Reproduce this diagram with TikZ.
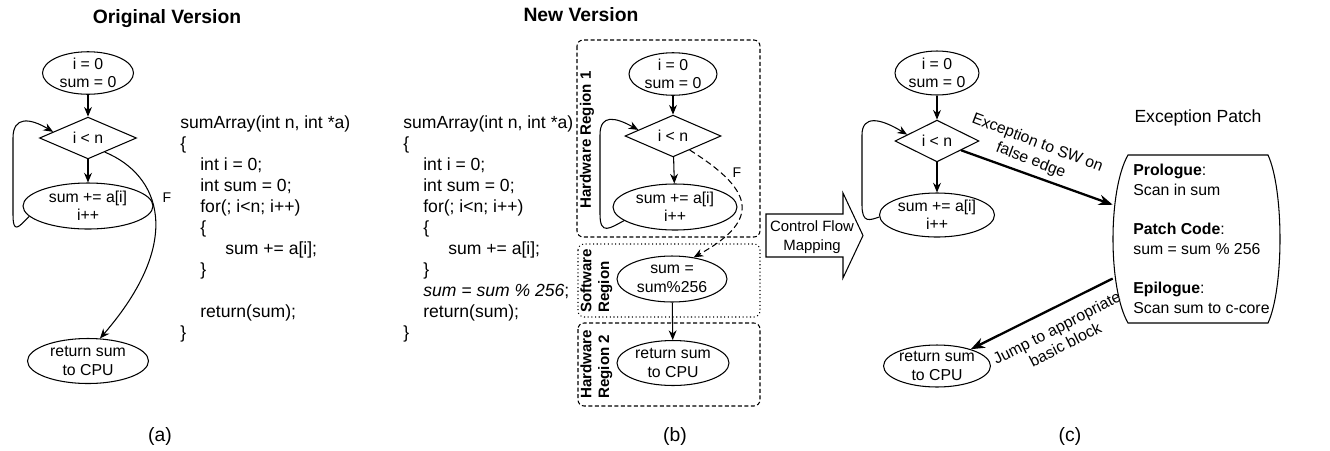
\documentclass[tikz,border=0pt]{standalone}
\usepackage{fontspec}
\setmainfont{Liberation Sans}
\usetikzlibrary{shapes.geometric,arrows.meta,positioning}
\tikzset{%
  blockNode/.style={%
    ellipse,
    draw,
    line width=0.6pt,
    inner sep=0pt,
    align=center,
    font=\fontsize{9}{10.5}\selectfont
  },
  testNode/.style={%
    diamond,
    draw,
    line width=0.6pt,
    inner sep=0pt,
    align=center,
    font=\fontsize{9}{10.5}\selectfont
  },
  flowLine/.style={%
    -{Stealth[length=5.5pt,width=4.5pt]},
    line width=0.6pt
  },
  falseLine/.style={%
    flowLine,
    dash pattern=on 3.5pt off 2pt
  },
  patchLine/.style={%
    -{Stealth[length=8pt,width=6pt]},
    line width=1.3pt
  },
  regionBox/.style={%
    rounded corners=3.5pt,
    line width=0.6pt
  },
  regionLabel/.style={%
    rotate=90,
    inner sep=0pt,
    align=left,
    font=\fontsize{8.6}{10.2}\selectfont\bfseries
  },
  codeText/.style={%
    inner sep=0pt,
    align=left,
    anchor=north west,
    font=\fontsize{10}{12}\selectfont
  },
  patchLabel/.style={%
    align=center,
    inner sep=0pt,
    font=\fontsize{9}{10.5}\selectfont
  },
  titleText/.style={font=\fontsize{11}{13}\selectfont\bfseries},
  captionText/.style={font=\fontsize{11}{13}\selectfont},
  edgeLabel/.style={font=\fontsize{8}{9.5}\selectfont}
}

\begin{document}
\begin{tikzpicture}[x=0.02cm, y=-0.02cm]
  \fill[white] (0,0) rectangle (1330,448);

  % (a) original version
  \node[titleText] (titleA) at (167,19) {Original Version};
  \node[blockNode, minimum width=1.82cm, minimum height=0.8cm] (initA) at (88,73) {i = 0\\sum = 0};
  \node[testNode, minimum width=1.94cm, minimum height=0.76cm] (testA) at (88,138) {i {\textless} n};
  \node[blockNode, minimum width=2.6cm, minimum height=0.92cm] (sumA) at (88,206) {sum += a[i]\\i++};
  \node[blockNode, minimum width=2.42cm, minimum height=0.9cm] (retA) at (88,361) {return sum\\to CPU};

  \draw[flowLine] (initA) -- (testA);
  \draw[flowLine] (testA) -- (sumA);
  \draw[flowLine] (sumA.190) .. controls (18,228) and (13,234) .. (13,214) -- (13,138)
    .. controls (13,116) and (30,118) .. (testA.170);
  \draw[flowLine] (testA.-40) .. controls (160,175) and (185,240) .. (retA.62);
  \node[edgeLabel] (falseA) at (167,198) {F};

  \node[codeText] (codeA) at (180,115) {sumArray(int n, int *a)\\
    \{\\
    \hspace*{0.4cm}int i = 0;\\
    \hspace*{0.4cm}int sum = 0;\\
    \hspace*{0.4cm}for(; i{\textless}n; i++)\\
    \hspace*{0.4cm}\{\\
    \hspace*{0.9cm}sum += a[i];\\
    \hspace*{0.4cm}\}\\
    \mbox{}\\
    \hspace*{0.4cm}return(sum);\\
    \}};
  \node[captionText] (capA) at (160,436) {(a)};

  % (b) new version
  \node[titleText] (titleB) at (581,15) {New Version};
  \node[codeText] (codeB) at (403,115) {sumArray(int n, int *a)\\
    \{\\
    \hspace*{0.4cm}int i = 0;\\
    \hspace*{0.4cm}int sum = 0;\\
    \hspace*{0.4cm}for(; i{\textless}n; i++)\\
    \hspace*{0.4cm}\{\\
    \hspace*{0.9cm}sum += a[i];\\
    \hspace*{0.4cm}\}\\
    \hspace*{0.4cm}\textit{sum = sum \% 256};\\
    \hspace*{0.4cm}return(sum);\\
    \}};

  \draw[regionBox, dash pattern=on 2.3pt off 1.4pt] (577,40) rectangle (760,237);
  \draw[regionBox, dash pattern=on 0.6pt off 1.5pt] (578,244) rectangle (760,317);
  \draw[regionBox, dash pattern=on 2.3pt off 1.4pt] (578,323) rectangle (760,406);
  \node[regionLabel] (hwOneLabel) at (587,140) {Hardware Region 1};
  \node[regionLabel, anchor=north west] (swLabel) at (580,313) {Software\\Region};
  \node[regionLabel, anchor=north west] (hwTwoLabel) at (580,399) {Hardware\\Region 2};

  \node[blockNode, minimum width=1.76cm, minimum height=0.84cm] (initB) at (673,74) {i = 0\\sum = 0};
  \node[testNode, minimum width=1.92cm, minimum height=0.76cm] (testB) at (673,136) {i {\textless} n};
  \node[blockNode, minimum width=2.48cm, minimum height=0.92cm] (sumB) at (675,207) {sum += a[i]\\i++};
  \node[blockNode, minimum width=2.2cm, minimum height=0.92cm] (swB) at (672,279) {sum =\\sum\%256};
  \node[blockNode, minimum width=2.24cm, minimum height=0.9cm] (retB) at (673,363) {return sum\\to CPU};

  \draw[flowLine] (initB) -- (testB);
  \draw[flowLine] (testB) -- (sumB);
  \draw[flowLine] (sumB.195) .. controls (610,228) and (600,236) .. (600,214) -- (600,135)
    .. controls (600,114) and (615,117) .. (testB.170);
  \draw[falseLine] (testB.-40) .. controls (750,188) and (765,218) .. (swB.45);
  \node[edgeLabel] (falseB) at (737,173) {F};
  \draw[flowLine] (swB) -- (retB);
  \node[captionText] (capB) at (675,436) {(b)};

  % mapping arrow
  \draw[line width=0.6pt] (766,214) -- (843,214) -- (843,193) -- (863,235.5) -- (843,278)
    -- (843,257) -- (766,257) -- cycle;
  \node[font=\fontsize{8.5}{11}\selectfont, align=center] (mapText) at (812,237) {Control Flow\\Mapping};

  % (c) exception patch
  \node[blockNode, minimum width=1.68cm, minimum height=0.88cm] (initC) at (937,73) {i = 0\\sum = 0};
  \node[testNode, minimum width=1.68cm, minimum height=0.76cm] (testC) at (937,141) {i {\textless} n};
  \node[blockNode, minimum width=2.3cm, minimum height=0.88cm] (sumC) at (937,215) {sum += a[i]\\i++};
  \node[blockNode, minimum width=2.12cm, minimum height=0.84cm] (retC) at (937,366) {return sum\\to CPU};

  \draw[flowLine] (initC) -- (testC);
  \draw[flowLine] (testC) -- (sumC);
  \draw[flowLine] (sumC.182) .. controls (870,220) and (862,224) .. (862,205) -- (862,135)
    .. controls (862,115) and (880,118) .. (testC.168);

  \node[font=\fontsize{10}{12}\selectfont] (patchTitle) at (1198,118) {Exception Patch};
  \node[minimum width=3.38cm, minimum height=3.36cm, inner sep=0pt] (patch) at (1197.5,239) {};
  \draw[line width=0.6pt] (1128,155) -- (1268,155) .. controls (1284,190) and (1284,288) .. (1268,323)
    -- (1128,323) .. controls (1108,288) and (1108,190) .. (1128,155) -- cycle;
  \node[codeText, font=\fontsize{9}{11.2}\selectfont] (patchText) at (1133,164) {\textbf{Prologue}:\\
    Scan in sum\\[11.2pt]
    \textbf{Patch Code}:\\
    sum = sum \% 256\\[11.2pt]
    \textbf{Epilogue}:\\
    Scan sum to c-core};

  \draw[patchLine] (testC.-21) -- (patch.158);
  \node[patchLabel, rotate=-21] (swLabelC) at (1034,152) {Exception to SW on\\false edge};
  \draw[patchLine] (patch.205) -- (retC);
  \node[patchLabel, rotate=27] (jumpLabel) at (1061,336) {Jump to appropriate\\basic block};
  \node[captionText] (capC) at (1070,436) {(c)};
\end{tikzpicture}
\end{document}
